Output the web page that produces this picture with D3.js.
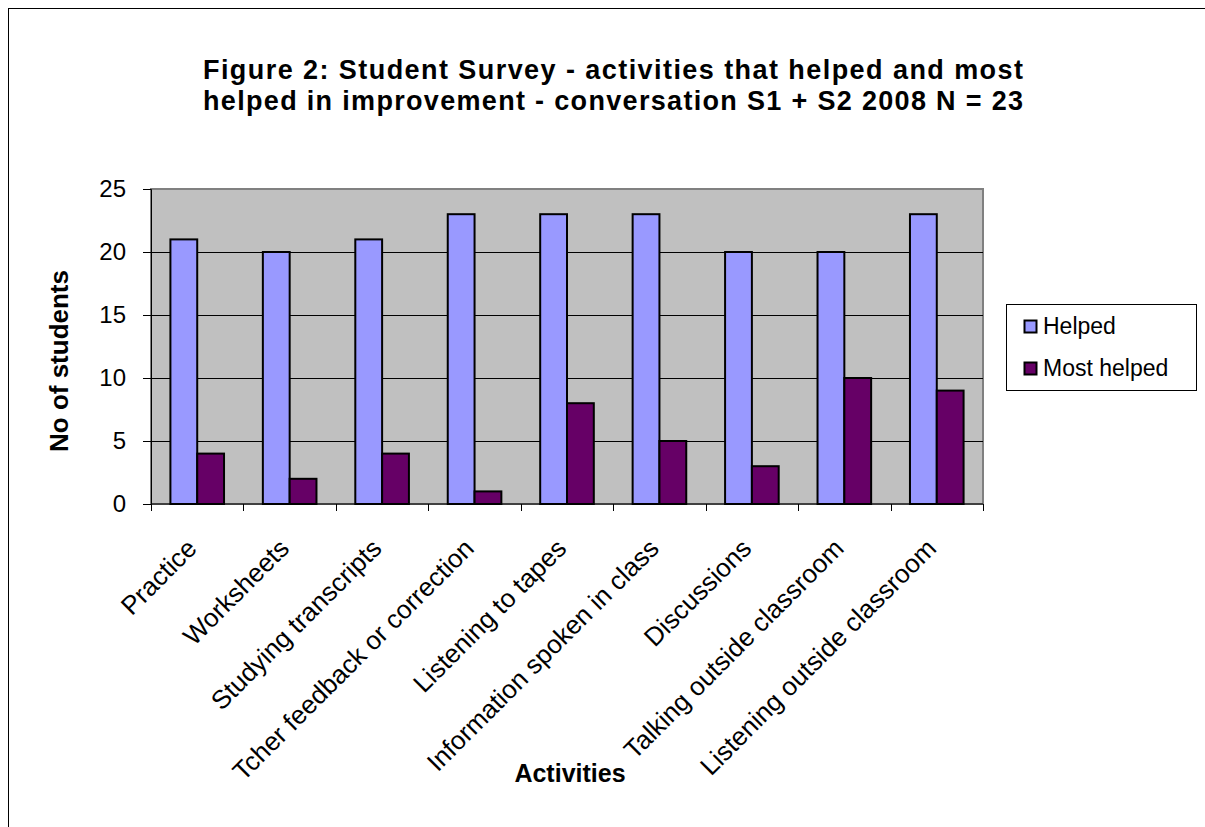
<!DOCTYPE html>
<html>
<head>
<meta charset="utf-8">
<script src="https://cdn.jsdelivr.net/npm/d3@7"></script>
<style>
  body { margin: 0; background: #fff; }
  text { font-family: Arial, "Liberation Sans", sans-serif; }
</style>
</head>
<body>
<div id="chart"></div>
<script>
// chart data
var activities = ["Practice", "Worksheets", "Studying transcripts", "Tcher feedback or correction",
  "Listening to tapes", "Information spoken in class", "Discussions",
  "Talking outside classroom", "Listening outside classroom"];
var helped = [21, 20, 21, 23, 23, 23, 20, 20, 23];
var mostHelped = [4, 2, 4, 1, 8, 5, 3, 10, 9];
var seriesNames = ["Helped", "Most helped"];
var yTicks = [0, 5, 10, 15, 20, 25];
var titleLines = ["Figure 2: Student Survey - activities that helped and most",
  "helped in improvement - conversation S1 + S2 2008 N = 23"];

var colors = {"Helped": "#9999ff", "Most helped": "#660066"};

var W = 1205, H = 827;
var margin = {top: 189, left: 151, right: 222, bottom: 323};
var width = W - margin.left - margin.right,
    height = H - margin.top - margin.bottom;

var svg = d3.select("#chart")
  .append("svg")
    .attr("width", W)
    .attr("height", H);

// outer frame (runs off the right and bottom edge)
svg.append("rect")
  .attr("x", 8.5).attr("y", 8.5)
  .attr("width", W + 20).attr("height", H + 20)
  .attr("fill", "none").attr("stroke", "#000").attr("stroke-width", 1);

// title
svg.selectAll(".title")
  .data(titleLines)
  .enter().append("text")
    .attr("x", 613)
    .attr("y", function(d, i){ return 79 + i * 31; })
    .attr("text-anchor", "middle")
    .attr("font-weight", "bold")
    .attr("font-size", 27)
    .attr("textLength", 820)
    .attr("lengthAdjust", "spacing")
    .text(function(d){ return d; });

var g = svg.append("g")
  .attr("transform", "translate(" + margin.left + "," + margin.top + ")");

var x = d3.scaleBand()
  .domain(activities)
  .range([0, width])
  .paddingInner(0)
  .paddingOuter(0);

var x1 = d3.scaleBand()
  .domain(seriesNames)
  .range([x.bandwidth() * 0.21, x.bandwidth() * 0.79]);

var y = d3.scaleLinear()
  .domain([0, 25])
  .range([height, 0]);

// plot background
g.append("rect")
  .attr("width", width).attr("height", height)
  .attr("fill", "#c0c0c0")
  .attr("stroke", "#808080").attr("stroke-width", 2);

// gridlines
g.selectAll(".grid")
  .data(yTicks.filter(function(d){ return d > 0 && d < 25; }))
  .enter().append("line")
    .attr("x1", 0).attr("x2", width)
    .attr("y1", function(d){ return Math.round(y(d)) + 0.5; })
    .attr("y2", function(d){ return Math.round(y(d)) + 0.5; })
    .attr("stroke", "#000").attr("stroke-width", 1);

// bars
var groups = g.selectAll(".grp")
  .data(activities)
  .enter().append("g")
    .attr("transform", function(d){ return "translate(" + x(d) + ",0)"; });

groups.selectAll("rect")
  .data(function(d, i){ return [
    {key: "Helped", value: helped[i]},
    {key: "Most helped", value: mostHelped[i]}]; })
  .enter().append("rect")
    .attr("x", function(d){ return x1(d.key); })
    .attr("width", x1.bandwidth())
    .attr("y", function(d){ return y(d.value); })
    .attr("height", function(d){ return height - y(d.value); })
    .attr("fill", function(d){ return colors[d.key]; })
    .attr("stroke", "#000").attr("stroke-width", 2);

// y axis
var yAxis = g.append("g")
  .call(d3.axisLeft(y).tickValues(yTicks).tickSize(8).tickPadding(17));
yAxis.select(".domain").attr("stroke", "#000");
yAxis.selectAll("text")
  .attr("font-size", 24)
  .attr("fill", "#000")
  .attr("font-family", "Arial, 'Liberation Sans', sans-serif");

// x axis, ticks between categories
var xAxis = g.append("g")
  .attr("transform", "translate(0," + height + ")");
xAxis.append("line")
  .attr("x1", 0).attr("x2", width)
  .attr("stroke", "#000");
xAxis.selectAll(".tk")
  .data(d3.range(activities.length + 1))
  .enter().append("line")
    .attr("x1", function(i){ return Math.round(i * x.step()) + 0.5; })
    .attr("x2", function(i){ return Math.round(i * x.step()) + 0.5; })
    .attr("y1", 0).attr("y2", 7)
    .attr("stroke", "#000");

xAxis.selectAll(".lbl")
  .data(activities)
  .enter().append("text")
    .attr("text-anchor", "end")
    .attr("font-size", 26)
    .attr("transform", function(d){
      var cx = x(d) + x.bandwidth() / 2 + 1;
      return "translate(" + cx + ",46) rotate(-45)";
    })
    .text(function(d){ return d; });

// axis titles
svg.append("text")
  .attr("transform", "translate(68,361) rotate(-90)")
  .attr("text-anchor", "middle")
  .attr("font-weight", "bold")
  .attr("font-size", 26)
  .text("No of students");

svg.append("text")
  .attr("x", 570).attr("y", 782)
  .attr("text-anchor", "middle")
  .attr("font-weight", "bold")
  .attr("font-size", 25)
  .text("Activities");

// legend
var legend = svg.append("g");
legend.append("rect")
  .attr("x", 1006.5).attr("y", 304.5)
  .attr("width", 190).attr("height", 86)
  .attr("fill", "#fff").attr("stroke", "#000");

var li = legend.selectAll(".li")
  .data(seriesNames)
  .enter().append("g")
    .attr("transform", function(d, i){ return "translate(1024," + (334 + i * 42) + ")"; });
li.append("rect")
  .attr("x", 0.5).attr("y", -13.5)
  .attr("width", 12).attr("height", 12)
  .attr("fill", function(d){ return colors[d]; })
  .attr("stroke", "#000").attr("stroke-width", 2);
li.append("text")
  .attr("x", 19).attr("y", 0)
  .attr("font-size", 23)
  .text(function(d){ return d; });
</script>
</body>
</html>
